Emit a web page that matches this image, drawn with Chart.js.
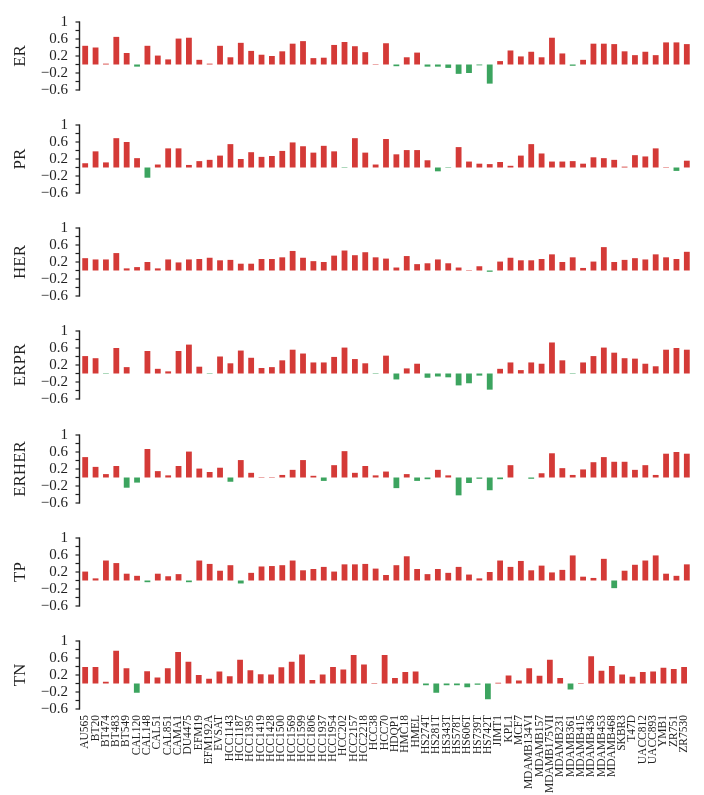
<!DOCTYPE html>
<html>
<head>
<meta charset="utf-8">
<script src="https://cdn.jsdelivr.net/npm/chart.js@4.4.1/dist/chart.umd.min.js"></script>
<style>
  html, body { margin: 0; padding: 0; background: #fff; }
  body { width: 704px; height: 795px; position: relative; overflow: hidden; }
  canvas { position: absolute; left: 0; }
</style>
</head>
<body>
<script>
const cellLines = ['AU565', 'BT20', 'BT474', 'BT483', 'BT549', 'CAL120', 'CAL148', 'CAL51', 'CAL851', 'CAMA1',
  'DU4475', 'EFM19', 'EFM192A', 'EVSAT', 'HCC1143', 'HCC1187', 'HCC1395', 'HCC1419', 'HCC1428', 'HCC1500',
  'HCC1569', 'HCC1599', 'HCC1806', 'HCC1937', 'HCC1954', 'HCC202', 'HCC2157', 'HCC2218', 'HCC38', 'HCC70',
  'HDQP1', 'HMC18', 'HMEL', 'HS274T', 'HS281T', 'HS343T', 'HS578T', 'HS606T', 'HS739T', 'HS742T',
  'JIMT1', 'KPL1', 'MCF7', 'MDAMB134VI', 'MDAMB157', 'MDAMB175VII', 'MDAMB231', 'MDAMB361', 'MDAMB415', 'MDAMB436',
  'MDAMB453', 'MDAMB468', 'SKBR3', 'T47D', 'UACC812', 'UACC893', 'YMB1', 'ZR751', 'ZR7530'];

const er = [0.44, 0.40, 0.02, 0.65, 0.27, -0.05, 0.44, 0.21, 0.12, 0.61,
  0.63, 0.11, 0.02, 0.44, 0.17, 0.51, 0.32, 0.23, 0.20, 0.31,
  0.49, 0.55, 0.15, 0.16, 0.46, 0.53, 0.43, 0.29, 0.01, 0.50,
  -0.04, 0.17, 0.28, -0.05, -0.05, -0.08, -0.22, -0.20, -0.02, -0.45,
  0.08, 0.33, 0.19, 0.30, 0.17, 0.63, 0.26, -0.03, 0.11, 0.49,
  0.49, 0.48, 0.31, 0.22, 0.30, 0.22, 0.52, 0.52, 0.48];
const pr = [0.10, 0.38, 0.12, 0.69, 0.60, 0.22, -0.24, 0.07, 0.45, 0.45,
  0.06, 0.15, 0.18, 0.28, 0.55, 0.20, 0.36, 0.25, 0.27, 0.39,
  0.59, 0.50, 0.35, 0.51, 0.38, -0.01, 0.69, 0.35, 0.07, 0.67,
  0.31, 0.41, 0.41, 0.17, -0.09, -0.01, 0.48, 0.14, 0.09, 0.08,
  0.13, 0.04, 0.28, 0.55, 0.33, 0.14, 0.14, 0.15, 0.09, 0.24,
  0.22, 0.18, 0.02, 0.29, 0.26, 0.45, 0.01, -0.08, 0.16];
const her = [0.29, 0.26, 0.26, 0.41, 0.05, 0.08, 0.20, 0.05, 0.26, 0.19,
  0.26, 0.27, 0.30, 0.24, 0.25, 0.16, 0.16, 0.27, 0.27, 0.31,
  0.46, 0.30, 0.22, 0.20, 0.35, 0.47, 0.36, 0.43, 0.31, 0.28,
  0.07, 0.34, 0.15, 0.17, 0.26, 0.17, 0.07, 0.01, 0.10, -0.03,
  0.21, 0.30, 0.24, 0.24, 0.27, 0.38, 0.20, 0.31, 0.06, 0.21,
  0.55, 0.20, 0.25, 0.29, 0.26, 0.38, 0.31, 0.27, 0.44];
const erpr = [0.41, 0.36, -0.01, 0.60, 0.15, 0.00, 0.53, 0.11, 0.05, 0.53,
  0.68, 0.16, -0.01, 0.40, 0.24, 0.54, 0.37, 0.13, 0.15, 0.31,
  0.56, 0.47, 0.26, 0.26, 0.39, 0.61, 0.34, 0.24, -0.01, 0.42,
  -0.14, 0.12, 0.23, -0.10, -0.07, -0.09, -0.28, -0.23, -0.05, -0.38,
  0.11, 0.26, 0.08, 0.26, 0.23, 0.73, 0.31, -0.01, 0.26, 0.41,
  0.61, 0.49, 0.36, 0.35, 0.23, 0.17, 0.56, 0.60, 0.56];
const erher = [0.48, 0.25, 0.08, 0.27, -0.24, -0.12, 0.67, 0.15, 0.05, 0.27,
  0.61, 0.21, 0.13, 0.23, -0.10, 0.41, 0.11, 0.01, 0.01, 0.06,
  0.18, 0.41, 0.04, -0.08, 0.29, 0.62, 0.11, 0.27, 0.05, 0.14,
  -0.25, 0.08, -0.08, -0.04, 0.18, 0.05, -0.42, -0.13, -0.03, -0.30,
  -0.04, 0.29, 0.00, -0.03, 0.10, 0.57, 0.22, 0.06, 0.19, 0.36,
  0.48, 0.37, 0.37, 0.18, 0.29, 0.06, 0.56, 0.60, 0.56];
const tp = [0.21, 0.05, 0.47, 0.41, 0.16, 0.11, -0.04, 0.16, 0.10, 0.15,
  -0.04, 0.47, 0.39, 0.23, 0.36, -0.07, 0.18, 0.33, 0.34, 0.36,
  0.47, 0.24, 0.27, 0.32, 0.21, 0.38, 0.38, 0.39, 0.28, 0.13,
  0.36, 0.57, 0.27, 0.15, 0.27, 0.18, 0.32, 0.14, 0.05, 0.20,
  0.47, 0.32, 0.46, 0.24, 0.35, 0.19, 0.25, 0.59, 0.09, 0.06,
  0.51, -0.18, 0.23, 0.37, 0.47, 0.59, 0.16, 0.11, 0.38];
const tn = [0.39, 0.39, 0.04, 0.77, 0.36, -0.22, 0.29, 0.14, 0.36, 0.74,
  0.51, 0.20, 0.11, 0.28, 0.17, 0.56, 0.31, 0.22, 0.21, 0.38,
  0.51, 0.68, 0.08, 0.21, 0.39, 0.33, 0.67, 0.45, 0.01, 0.67,
  0.13, 0.27, 0.28, -0.04, -0.22, -0.04, -0.04, -0.09, -0.03, -0.37,
  0.02, 0.19, 0.07, 0.36, 0.18, 0.56, 0.13, -0.14, 0.01, 0.64,
  0.30, 0.41, 0.21, 0.16, 0.27, 0.28, 0.37, 0.34, 0.39];

const panelNames = ['ER', 'PR', 'HER', 'ERPR', 'ERHER', 'TP', 'TN'];
const panelValues = [er, pr, her, erpr, erher, tp, tn];
const yTickLabels = [1, 0.6, 0.2, -0.2, -0.6];

const red = '#d43a37';
const green = '#3ca45f';
const axisColor = '#222';
const serif = '"Liberation Serif", "DejaVu Serif", serif';

// y tick text: "1", "0.6", "−0.2" ...
function fmt(v) {
  if (Math.abs(v - 1) < 1e-6) return '1';
  return (v < 0 ? '\u2212' : '') + Math.abs(v).toFixed(1);
}

// y axis line with short outward tick marks, placed from the scale
const leftAxis = {
  id: 'leftAxis',
  afterDatasetsDraw(chart) {
    const y = chart.scales.y;
    const x = chart.chartArea.left - 0.5;
    const ctx = chart.ctx;
    const yTop = y.getPixelForValue(y.max);
    const yBot = y.getPixelForValue(y.min);
    ctx.save();
    ctx.fillStyle = axisColor;
    ctx.fillRect(x - 0.7, yTop - 0.6, 1.4, yBot - yTop + 1.2);
    y.ticks.forEach(t => {
      const py = y.getPixelForValue(t.value);
      ctx.fillRect(x - 4, py - 0.6, 4, 1.2);
    });
    ctx.restore();
  }
};

panelNames.forEach((name, i) => {
  const values = panelValues[i];
  const last = i === panelNames.length - 1;
  const top = Math.round(4.7 + 103.2 * i);
  const h = last ? 795 - top : 103;
  const plotH = 73;

  const canvas = document.createElement('canvas');
  canvas.width = 704;
  canvas.height = h;
  canvas.style.top = top + 'px';
  document.body.appendChild(canvas);

  new Chart(canvas, {
    type: 'bar',
    data: {
      labels: cellLines,
      datasets: [{
        data: values,
        backgroundColor: values.map(v => v < 0 ? green : red),
        categoryPercentage: 1,
        barPercentage: 0.56
      }]
    },
    plugins: [leftAxis],
    options: {
      responsive: false,
      animation: false,
      layout: { padding: { top: 12, right: 12, left: 0, bottom: last ? 0 : h - 12 - plotH } },
      plugins: { legend: { display: false }, tooltip: { enabled: false } },
      scales: {
        x: {
          display: last,
          grid: { display: false, drawTicks: false },
          border: { display: false },
          ticks: {
            autoSkip: false, maxRotation: 90, minRotation: 90, padding: 6,
            color: '#222', font: { family: serif, size: 11.5 }
          },
          afterFit: s => { if (last) s.height = h - 12 - plotH; }
        },
        y: {
          min: -0.6,
          max: 1,
          afterFit: s => { s.width = 80; },
          ticks: {
            stepSize: 0.2, padding: 8, color: '#222', autoSkip: false,
            font: { family: serif, size: 15 },
            callback: v => yTickLabels.some(t => Math.abs(t - v) < 1e-6) ? fmt(v) : ''
          },
          grid: { display: false, drawOnChartArea: false, tickLength: 4 },
          border: { display: false },
          title: {
            display: true, text: name, color: '#222',
            font: { family: serif, size: 17 },
            padding: { top: 10, bottom: 0 }
          }
        }
      }
    }
  });
});
</script>
</body>
</html>
